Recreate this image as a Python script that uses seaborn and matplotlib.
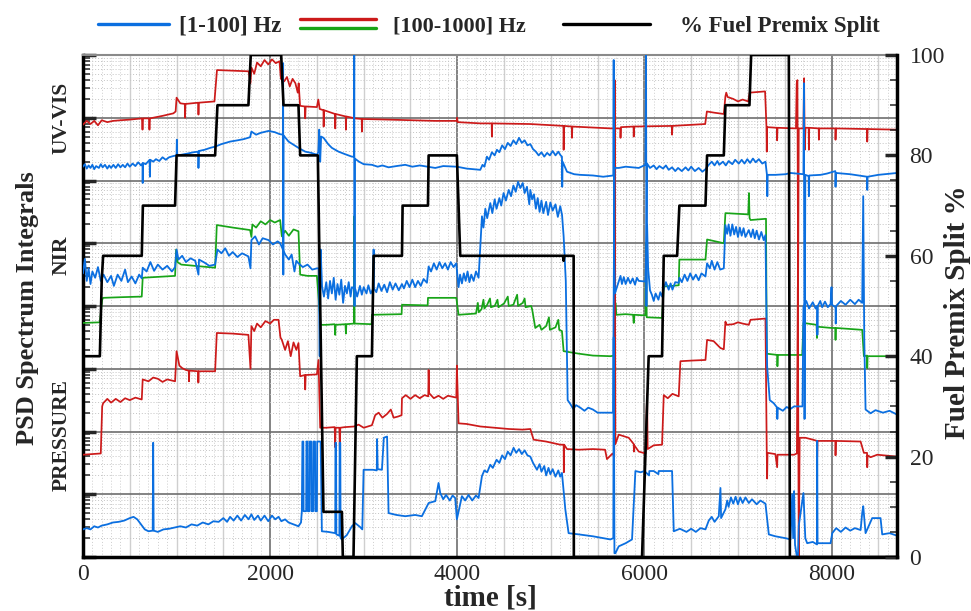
import numpy as np
import pandas as pd
import matplotlib
matplotlib.use("Agg")
import matplotlib.pyplot as plt
import seaborn as sns
from matplotlib.lines import Line2D
from matplotlib.legend_handler import HandlerBase
from matplotlib.ticker import MultipleLocator, LogLocator, NullFormatter
from matplotlib.transforms import blended_transform_factory

# ---------------------------------------------------------------------------
# Spectrum integrals: (time [s], log10 of the PSD integral)
# ---------------------------------------------------------------------------
uv_high = [
    (0, 6.89), (40, 6.95), (80, 6.90), (120, 6.95), (160, 6.88), (200, 6.96), (260, 6.93),
    (320, 6.95), (400, 6.96), (500, 6.97), (630, 6.99), (636, 6.81), (642, 6.99), (705, 6.99),
    (710, 6.81), (716, 6.99), (850, 7.03), (966, 7.07), (990, 7.10), (1000, 7.32), (1040, 7.23),
    (1088, 7.22), (1091, 7.00), (1095, 7.22), (1231, 7.24), (1234, 7.05), (1238, 7.24),
    (1405, 7.26), (1432, 7.76), (1600, 7.75), (1770, 7.74), (1790, 7.55), (1800, 7.80),
    (1830, 7.70), (1860, 7.88), (1900, 7.82), (1940, 7.92), (1980, 7.85), (2020, 7.93),
    (2060, 7.87), (2100, 7.90), (2115, 7.62), (2150, 7.58), (2180, 7.65), (2210, 7.50),
    (2240, 7.62), (2270, 7.55), (2295, 7.40), (2305, 7.55), (2320, 7.19), (2370, 7.18),
    (2375, 6.99), (2380, 7.18), (2500, 7.17), (2515, 7.29), (2530, 7.14), (2570, 7.12),
    (2572, 6.86), (2576, 7.12), (2694, 7.06), (2696, 6.83), (2700, 7.06), (2808, 7.02),
    (2810, 6.81), (2814, 7.02), (2910, 6.99), (2979, 6.98), (2981, 6.78), (2985, 6.98),
    (3270, 6.97), (3500, 6.96), (3765, 6.95), (3995, 6.95), (3998, 7.00), (4005, 6.93),
    (4250, 6.91), (4368, 6.91), (4370, 6.70), (4374, 6.91), (4780, 6.90), (5135, 6.87),
    (5137, 6.49), (5141, 6.87), (5224, 6.86), (5226, 6.68), (5230, 6.86), (5640, 6.83),
    (5680, 6.83), (5683, 7.60), (5687, 6.83), (5743, 6.83), (5745, 6.68), (5749, 6.85),
    (5884, 6.86), (5886, 6.70), (5890, 6.86), (6294, 6.87), (6296, 6.73), (6300, 6.87),
    (6650, 6.90), (6668, 7.10), (6750, 7.08), (6849, 7.06), (6866, 7.34), (6875, 7.40),
    (6890, 7.33), (6950, 7.30), (7000, 7.26), (7050, 7.29), (7110, 7.26), (7125, 7.40),
    (7290, 7.42), (7305, 6.85), (7308, 6.46), (7312, 6.85), (7417, 6.84), (7419, 6.64),
    (7423, 6.84), (7620, 6.83), (7628, 7.55), (7636, 7.60), (7643, 4.31), (7650, 6.83),
    (7700, 6.83), (7707, 7.63), (7714, 6.49), (7722, 6.84), (7756, 6.84), (7758, 6.49),
    (7762, 6.84), (7863, 6.83), (7865, 6.65), (7869, 6.83), (8041, 6.83), (8043, 6.65),
    (8047, 6.83), (8380, 6.82), (8382, 6.62), (8386, 6.82), (8700, 6.81),
]

uv_low = [
    (0, 6.22), (20, 6.26), (40, 6.19), (60, 6.24), (80, 6.20), (100, 6.25), (120, 6.18),
    (140, 6.23), (170, 6.20), (190, 6.26), (210, 6.21), (235, 6.25), (260, 6.19), (280, 6.24),
    (300, 6.20), (325, 6.25), (350, 6.20), (375, 6.26), (400, 6.21), (425, 6.25), (450, 6.21),
    (475, 6.27), (500, 6.22), (530, 6.27), (560, 6.23), (590, 6.29), (620, 6.24), (636, 6.27),
    (638, 5.96), (641, 6.28), (670, 6.26), (700, 6.31), (712, 6.33), (715, 6.06), (719, 6.33),
    (750, 6.30), (780, 6.34), (815, 6.31), (850, 6.37), (885, 6.33), (920, 6.37), (966, 6.39),
    (1000, 6.40), (1003, 6.65), (1007, 6.40), (1050, 6.41), (1120, 6.43), (1180, 6.45),
    (1232, 6.46), (1234, 6.20), (1238, 6.47), (1300, 6.49), (1360, 6.52), (1412, 6.54),
    (1480, 6.58), (1572, 6.62), (1650, 6.64), (1720, 6.66), (1786, 6.69), (1800, 6.78),
    (1850, 6.73), (1900, 6.76), (1983, 6.79), (2050, 6.77), (2100, 6.74), (2137, 6.73),
    (2139, 7.87), (2141, 4.50), (2143, 6.72), (2197, 6.62), (2250, 6.57), (2303, 6.52),
    (2375, 6.46), (2440, 6.44), (2500, 6.41), (2515, 6.45), (2525, 6.81), (2535, 6.30),
    (2545, 6.70), (2571, 6.68), (2620, 6.58), (2660, 6.52), (2731, 6.46), (2800, 6.42),
    (2874, 6.38), (2897, 6.38), (2899, 8.00), (2902, 4.00), (2905, 6.35), (2950, 6.30),
    (3000, 6.26), (3088, 6.25), (3150, 6.22), (3200, 6.24), (3266, 6.21), (3350, 6.23),
    (3444, 6.25), (3520, 6.22), (3600, 6.24), (3765, 6.20), (3850, 6.23), (3996, 6.22),
    (4100, 6.19), (4246, 6.17), (4270, 6.25), (4290, 6.22), (4317, 6.38), (4340, 6.33),
    (4370, 6.45), (4400, 6.40), (4424, 6.49), (4450, 6.45), (4480, 6.56), (4510, 6.50),
    (4540, 6.60), (4570, 6.55), (4600, 6.64), (4630, 6.58), (4660, 6.68), (4690, 6.60),
    (4720, 6.64), (4750, 6.56), (4781, 6.58), (4810, 6.50), (4840, 6.46), (4870, 6.40),
    (4900, 6.45), (4930, 6.38), (4960, 6.44), (4990, 6.40), (5020, 6.47), (5050, 6.40),
    (5080, 6.46), (5105, 6.40), (5119, 6.38), (5122, 5.90), (5126, 6.30), (5173, 6.14),
    (5250, 6.10), (5315, 6.09), (5450, 6.08), (5560, 6.06), (5668, 6.08), (5672, 7.92),
    (5676, 4.50), (5680, 6.20), (5726, 6.20), (5800, 6.22), (5940, 6.20), (6011, 6.25),
    (6018, 8.00), (6022, 4.00), (6028, 6.27), (6060, 6.20), (6100, 6.24), (6130, 6.18),
    (6160, 6.23), (6200, 6.19), (6230, 6.24), (6260, 6.17), (6296, 6.21), (6330, 6.15),
    (6360, 6.20), (6400, 6.15), (6440, 6.21), (6470, 6.16), (6500, 6.22), (6540, 6.15),
    (6580, 6.20), (6620, 6.14), (6653, 6.18), (6688, 6.25), (6720, 6.30), (6750, 6.24),
    (6780, 6.31), (6800, 6.25), (6840, 6.30), (6870, 6.24), (6900, 6.31), (6940, 6.26),
    (6970, 6.33), (7009, 6.27), (7040, 6.33), (7070, 6.27), (7100, 6.34), (7130, 6.28),
    (7160, 6.35), (7190, 6.29), (7223, 6.34), (7260, 6.27), (7294, 6.30), (7310, 6.09),
    (7314, 5.75), (7318, 6.09), (7400, 6.09), (7508, 6.10), (7562, 6.12), (7700, 6.10),
    (7705, 7.55), (7712, 2.20), (7720, 6.09), (7756, 6.07), (7758, 5.75), (7762, 6.08),
    (7883, 6.09), (7950, 6.11), (8041, 6.15), (8043, 5.90), (8047, 6.12), (8200, 6.10),
    (8380, 6.06), (8382, 5.85), (8386, 6.06), (8500, 6.09), (8700, 6.12),
]

nir_high = [
    (0, 3.73), (180, 3.74), (205, 4.10), (215, 4.13), (400, 4.14), (628, 4.15), (638, 4.45),
    (984, 4.48), (995, 4.90), (1010, 4.70), (1050, 4.66), (1200, 4.64), (1412, 4.61),
    (1430, 5.29), (1600, 5.25), (1786, 5.21), (1800, 5.10), (1810, 5.30), (1850, 5.25),
    (1900, 5.35), (1950, 5.30), (2000, 5.37), (2050, 5.33), (2107, 5.37), (2125, 5.11),
    (2160, 5.20), (2200, 5.12), (2250, 5.22), (2303, 5.19), (2321, 4.50), (2400, 4.48),
    (2500, 4.48), (2540, 3.70), (2600, 3.70), (2690, 3.71), (2696, 3.54), (2700, 3.70),
    (2805, 3.71), (2810, 3.56), (2815, 3.71), (2897, 3.72), (2899, 5.43), (2903, 3.72),
    (3085, 3.71), (3088, 3.86), (3405, 3.87), (3409, 4.02), (3684, 4.01), (3687, 4.13),
    (3990, 4.13), (4014, 3.86), (4100, 3.87), (4200, 3.88), (4220, 4.05), (4230, 3.90),
    (4260, 3.95), (4280, 4.10), (4290, 3.96), (4320, 4.02), (4350, 4.12), (4360, 3.98),
    (4400, 4.00), (4430, 4.10), (4440, 3.98), (4500, 4.04), (4540, 4.15), (4550, 4.00),
    (4600, 4.02), (4640, 4.18), (4650, 4.00), (4700, 4.05), (4720, 4.12), (4730, 3.98),
    (4790, 4.00), (4800, 3.95), (4834, 3.65), (4880, 3.70), (4900, 3.62), (4950, 3.68),
    (4980, 3.82), (4990, 3.62), (5050, 3.66), (5080, 3.78), (5090, 3.62), (5119, 3.60),
    (5137, 3.28), (5300, 3.24), (5450, 3.21), (5636, 3.20), (5680, 3.21), (5690, 4.05),
    (5700, 3.86), (5800, 3.87), (5880, 3.86), (5886, 3.73), (5890, 3.86), (6011, 3.85),
    (6018, 5.00), (6025, 3.82), (6189, 3.81), (6207, 4.31), (6367, 4.33), (6374, 4.74),
    (6653, 4.74), (6670, 5.06), (6849, 5.00), (6866, 5.48), (7110, 5.46), (7118, 5.80),
    (7124, 5.40), (7135, 5.37), (7300, 5.39), (7308, 3.24), (7420, 3.22), (7422, 3.04),
    (7426, 3.22), (7687, 3.22), (7700, 3.73), (7840, 3.70), (7845, 3.49), (7850, 3.67),
    (8000, 3.65), (8040, 3.65), (8043, 3.46), (8047, 3.65), (8328, 3.62), (8346, 3.20),
    (8380, 3.21), (8382, 3.01), (8386, 3.20), (8700, 3.20),
]

nir_low = [
    (0, 4.52), (20, 4.75), (40, 4.40), (60, 4.60), (80, 4.35), (100, 4.55), (130, 4.45),
    (160, 4.62), (190, 4.40), (220, 4.50), (260, 4.38), (300, 4.48), (330, 4.32), (370, 4.50),
    (410, 4.40), (450, 4.58), (480, 4.38), (520, 4.47), (560, 4.36), (600, 4.50), (628, 4.44),
    (638, 4.61), (680, 4.55), (720, 4.70), (760, 4.56), (800, 4.66), (850, 4.58), (900, 4.64),
    (950, 4.55), (984, 4.62), (1000, 4.90), (1020, 4.74), (1060, 4.80), (1100, 4.70),
    (1150, 4.76), (1200, 4.72), (1234, 4.50), (1240, 4.74), (1300, 4.69), (1350, 4.64),
    (1412, 4.66), (1437, 4.90), (1480, 4.84), (1520, 4.92), (1560, 4.80), (1600, 4.86),
    (1650, 4.78), (1700, 4.84), (1768, 4.79), (1790, 4.60), (1800, 5.05), (1840, 5.11),
    (1880, 4.98), (1920, 5.08), (1983, 5.05), (2030, 4.98), (2080, 5.03), (2107, 5.00),
    (2161, 4.82), (2200, 4.74), (2230, 4.82), (2260, 4.55), (2280, 4.72), (2303, 4.68),
    (2350, 4.62), (2400, 4.66), (2450, 4.58), (2500, 4.60), (2520, 4.60), (2530, 3.20),
    (2540, 4.90), (2555, 4.31), (2575, 4.15), (2600, 4.38), (2620, 4.12), (2640, 4.40),
    (2660, 4.20), (2680, 4.45), (2700, 4.10), (2720, 4.35), (2740, 4.18), (2760, 4.42),
    (2780, 4.05), (2800, 4.32), (2820, 4.20), (2840, 4.38), (2860, 4.15), (2874, 4.30),
    (2910, 4.27), (2930, 4.15), (2960, 4.32), (2980, 4.18), (3000, 4.30), (3030, 4.20),
    (3050, 4.33), (3075, 4.20), (3100, 4.27), (3106, 4.90), (3110, 4.28), (3135, 4.22),
    (3160, 4.36), (3190, 4.24), (3220, 4.34), (3250, 4.22), (3280, 4.38), (3310, 4.26),
    (3340, 4.36), (3375, 4.25), (3409, 4.35), (3430, 4.28), (3460, 4.40), (3490, 4.30),
    (3520, 4.42), (3550, 4.30), (3580, 4.40), (3610, 4.32), (3640, 4.43), (3676, 4.37),
    (3694, 4.63), (3720, 4.55), (3750, 4.68), (3780, 4.58), (3810, 4.70), (3840, 4.60),
    (3870, 4.68), (3900, 4.58), (3930, 4.70), (3960, 4.62), (3989, 4.68), (4014, 4.30),
    (4030, 4.50), (4050, 4.36), (4070, 4.52), (4090, 4.40), (4110, 4.55), (4130, 4.38),
    (4150, 4.50), (4175, 4.40), (4200, 4.55), (4228, 4.45), (4264, 5.43), (4280, 5.25),
    (4300, 5.55), (4320, 5.40), (4353, 5.64), (4375, 5.48), (4400, 5.70), (4420, 5.55),
    (4450, 5.72), (4470, 5.60), (4495, 5.80), (4520, 5.68), (4550, 5.85), (4575, 5.75),
    (4600, 5.92), (4625, 5.82), (4650, 5.98), (4674, 5.88), (4700, 5.96), (4720, 5.80),
    (4745, 5.90), (4770, 5.62), (4781, 5.85), (4800, 5.70), (4820, 5.78), (4840, 5.55),
    (4860, 5.72), (4880, 5.50), (4900, 5.68), (4920, 5.48), (4950, 5.66), (4970, 5.45),
    (4995, 5.65), (5020, 5.52), (5050, 5.62), (5075, 5.42), (5101, 5.59), (5120, 5.45),
    (5137, 5.11), (5160, 4.40), (5180, 2.50), (5208, 2.44), (5240, 2.36), (5270, 2.42),
    (5315, 2.38), (5360, 2.33), (5400, 2.38), (5450, 2.35), (5500, 2.30), (5560, 2.30),
    (5665, 2.30), (5675, 4.90), (5685, 4.20), (5726, 4.39), (5745, 4.48), (5760, 4.35),
    (5780, 4.46), (5800, 4.35), (5825, 4.45), (5850, 4.36), (5875, 4.44), (5900, 4.34),
    (5920, 4.45), (5940, 4.40), (6011, 4.39), (6029, 5.30), (6040, 4.60), (6060, 4.25),
    (6080, 4.18), (6100, 4.08), (6120, 4.20), (6150, 4.10), (6170, 4.22), (6189, 4.15),
    (6207, 4.28), (6230, 4.38), (6260, 4.26), (6280, 4.36), (6300, 4.26), (6330, 4.38),
    (6367, 4.37), (6374, 4.45), (6400, 4.38), (6430, 4.50), (6460, 4.40), (6490, 4.52),
    (6520, 4.42), (6550, 4.50), (6580, 4.41), (6610, 4.52), (6653, 4.47), (6670, 4.68),
    (6700, 4.60), (6720, 4.72), (6750, 4.58), (6780, 4.70), (6810, 4.58), (6849, 4.60),
    (6866, 5.29), (6885, 5.15), (6900, 5.30), (6920, 5.12), (6940, 5.30), (6960, 5.14),
    (6980, 5.26), (7000, 5.10), (7020, 5.25), (7040, 5.12), (7060, 5.24), (7080, 5.10),
    (7116, 5.21), (7140, 5.10), (7160, 5.22), (7180, 5.08), (7200, 5.20), (7225, 5.06),
    (7250, 5.18), (7275, 5.05), (7294, 5.13), (7312, 3.04), (7340, 2.50), (7383, 2.45),
    (7419, 2.38), (7421, 2.20), (7425, 2.38), (7480, 2.33), (7520, 2.39), (7562, 2.36),
    (7600, 2.40), (7690, 2.40), (7700, 3.99), (7730, 4.08), (7760, 3.96), (7800, 4.06),
    (7830, 3.96), (7847, 4.00), (7849, 3.54), (7853, 4.00), (7880, 4.08), (7900, 3.98),
    (7930, 4.07), (7960, 3.98), (7990, 4.03), (8000, 4.30), (8005, 4.02), (8043, 3.98),
    (8045, 3.72), (8050, 4.00), (8100, 4.08), (8150, 4.02), (8200, 4.10), (8250, 4.03),
    (8290, 4.10), (8328, 4.05), (8339, 5.75), (8350, 3.50), (8364, 2.35), (8418, 2.29),
    (8470, 2.34), (8550, 2.30), (8620, 2.33), (8700, 2.27),
]

pressure_high = [
    (0, 1.63), (100, 1.64), (190, 1.65), (205, 2.40), (215, 2.45), (260, 2.52), (300, 2.46),
    (350, 2.52), (400, 2.47), (450, 2.53), (500, 2.50), (560, 2.54), (628, 2.51), (638, 2.83),
    (700, 2.80), (750, 2.86), (800, 2.84), (850, 2.79), (900, 2.83), (984, 2.80),
    (1000, 3.28), (1030, 3.05), (1060, 3.01), (1100, 2.98), (1130, 2.97), (1133, 2.80),
    (1137, 2.97), (1230, 2.96), (1233, 2.78), (1237, 2.96), (1412, 2.96), (1430, 3.57),
    (1600, 3.56), (1768, 3.54), (1790, 3.00), (1800, 3.68), (1830, 3.60), (1860, 3.72),
    (1900, 3.66), (1950, 3.76), (2000, 3.72), (2040, 3.78), (2090, 3.78), (2110, 3.50),
    (2125, 3.46), (2160, 3.30), (2190, 3.44), (2220, 3.20), (2250, 3.42), (2280, 3.30),
    (2303, 3.41), (2321, 2.88), (2370, 2.90), (2375, 2.67), (2380, 2.90), (2500, 2.91),
    (2517, 3.14), (2535, 2.06), (2600, 2.06), (2690, 2.07), (2695, 1.75), (2700, 2.06),
    (2740, 2.06), (2745, 1.71), (2750, 2.06), (2800, 2.07), (2900, 2.08), (2945, 2.11),
    (3000, 2.06), (3088, 2.10), (3123, 2.26), (3160, 2.30), (3200, 2.22), (3250, 2.28),
    (3290, 2.35), (3320, 2.22), (3370, 2.24), (3405, 2.26), (3409, 2.53), (3450, 2.58),
    (3500, 2.52), (3550, 2.58), (3600, 2.53), (3650, 2.58), (3690, 2.56), (3694, 2.98),
    (3700, 2.61), (3750, 2.53), (3800, 2.57), (3850, 2.52), (3900, 2.57), (3990, 2.54),
    (3996, 3.05), (4014, 2.13), (4100, 2.12), (4246, 2.08), (4400, 2.06), (4550, 2.04),
    (4700, 2.03), (4781, 2.04), (4816, 1.87), (4950, 1.84), (5100, 1.79), (5137, 1.79),
    (5139, 1.35), (5143, 1.79), (5173, 1.72), (5300, 1.71), (5450, 1.72), (5580, 1.71),
    (5600, 1.56), (5660, 1.65), (5678, 1.60), (5683, 7.00), (5690, 1.80), (5726, 1.95),
    (5833, 1.90), (5886, 1.80), (5888, 1.68), (5892, 1.78), (5940, 1.68), (6011, 1.65),
    (6029, 2.60), (6035, 1.72), (6100, 1.78), (6189, 1.79), (6207, 2.58), (6250, 2.53),
    (6300, 2.60), (6367, 2.56), (6385, 3.12), (6500, 3.13), (6653, 3.14), (6670, 3.46),
    (6740, 3.44), (6780, 3.38), (6813, 3.33), (6849, 3.31), (6866, 3.75), (6880, 3.70),
    (6950, 3.71), (7000, 3.74), (7050, 3.72), (7116, 3.70), (7134, 3.78), (7294, 3.80),
    (7308, 1.66), (7312, 1.25), (7316, 1.66), (7400, 1.64), (7419, 1.43), (7423, 1.63),
    (7600, 1.63), (7630, 1.65), (7640, 4.30), (7650, -0.10), (7660, 1.90), (7722, 1.90),
    (7800, 1.87), (7845, 1.85), (7847, 1.60), (7851, 1.85), (8041, 1.85), (8043, 1.62),
    (8047, 1.85), (8311, 1.84), (8346, 1.66), (8380, 1.66), (8382, 1.43), (8386, 1.62),
    (8418, 1.59), (8489, 1.63), (8700, 1.60),
]

pressure_low = [
    (0, 0.44), (40, 0.46), (80, 0.44), (120, 0.49), (160, 0.47), (200, 0.50), (260, 0.52),
    (320, 0.55), (380, 0.56), (440, 0.58), (500, 0.62), (540, 0.64), (580, 0.60), (620, 0.52),
    (660, 0.44), (700, 0.41), (745, 0.42), (750, 1.82), (755, 0.42), (800, 0.40), (860, 0.44),
    (920, 0.45), (980, 0.47), (1040, 0.49), (1100, 0.47), (1160, 0.52), (1220, 0.50),
    (1280, 0.55), (1340, 0.52), (1394, 0.57), (1450, 0.56), (1500, 0.62), (1540, 0.56),
    (1572, 0.64), (1610, 0.58), (1650, 0.66), (1690, 0.58), (1730, 0.67), (1770, 0.60),
    (1800, 0.68), (1830, 0.59), (1870, 0.66), (1900, 0.58), (1940, 0.66), (1980, 0.57),
    (2020, 0.66), (2054, 0.60), (2090, 0.64), (2120, 0.57), (2160, 0.60), (2197, 0.55),
    (2250, 0.52), (2303, 0.49), (2330, 0.55), (2339, 0.73), (2345, 1.84), (2355, 1.84),
    (2358, 0.73), (2385, 0.73), (2388, 1.84), (2400, 1.84), (2403, 0.73), (2420, 0.73),
    (2423, 1.84), (2440, 1.84), (2443, 0.73), (2460, 0.73), (2463, 1.84), (2480, 1.84),
    (2483, 0.73), (2500, 0.73), (2503, 1.84), (2540, 1.84), (2553, 0.41), (2620, 0.40),
    (2696, 0.38), (2698, 1.82), (2705, 1.82), (2708, 0.36), (2740, 0.34), (2743, 1.82),
    (2750, 1.82), (2753, 0.30), (2767, 0.28), (2820, 0.35), (2874, 0.49), (2910, 0.54),
    (2960, 0.48), (2985, 0.44), (2999, 1.39), (3100, 1.39), (3140, 1.38), (3143, 1.88),
    (3150, 1.40), (3195, 1.39), (3215, 1.90), (3250, 1.92), (3266, 0.70), (3350, 0.67),
    (3444, 0.65), (3550, 0.67), (3622, 0.65), (3694, 0.86), (3765, 0.89), (3800, 1.18),
    (3818, 1.02), (3850, 0.92), (3880, 0.99), (3920, 0.90), (3950, 0.98), (3978, 0.94),
    (3996, 0.60), (4050, 0.97), (4085, 0.90), (4120, 0.99), (4160, 0.90), (4200, 0.98),
    (4228, 0.94), (4264, 1.29), (4290, 1.38), (4320, 1.35), (4353, 1.47), (4380, 1.42),
    (4420, 1.55), (4450, 1.50), (4480, 1.62), (4510, 1.56), (4540, 1.68), (4570, 1.62),
    (4602, 1.74), (4630, 1.66), (4660, 1.72), (4690, 1.64), (4720, 1.70), (4750, 1.62),
    (4781, 1.60), (4810, 1.50), (4852, 1.39), (4880, 1.48), (4900, 1.36), (4930, 1.45),
    (4950, 1.30), (4975, 1.42), (4995, 1.32), (5020, 1.40), (5050, 1.28), (5080, 1.38),
    (5100, 1.28), (5119, 1.34), (5155, 0.76), (5190, 0.38), (5300, 0.36), (5450, 0.33),
    (5560, 0.30), (5636, 0.28), (5668, 0.30), (5672, 3.50), (5680, 0.06), (5690, 0.06),
    (5726, 0.17), (5800, 0.22), (5868, 0.28), (5904, 1.37), (5960, 1.35), (6000, 1.37),
    (6050, 1.30), (6053, 1.37), (6100, 1.37), (6150, 1.32), (6153, 1.37), (6296, 1.37),
    (6314, 0.41), (6380, 0.45), (6450, 0.40), (6500, 0.45), (6550, 0.40), (6600, 0.46),
    (6653, 0.44), (6688, 0.58), (6720, 0.64), (6750, 0.56), (6795, 0.65), (6813, 1.10),
    (6820, 0.62), (6866, 0.76), (6885, 0.90), (6900, 0.80), (6925, 0.95), (6950, 0.85),
    (6975, 0.96), (7000, 0.84), (7025, 0.95), (7050, 0.86), (7080, 0.95), (7116, 0.86),
    (7150, 0.92), (7200, 0.84), (7240, 0.90), (7294, 0.85), (7330, 0.36), (7400, 0.33),
    (7508, 0.30), (7562, 0.28), (7580, 1.00), (7590, 0.30), (7600, 1.05), (7610, 0.20),
    (7640, -0.10), (7650, 0.50), (7700, 1.02), (7720, 0.30), (7740, 0.22), (7800, 0.24),
    (7845, 0.20), (7847, 1.85), (7851, 0.22), (7990, 0.22), (8008, 0.38), (8050, 0.46),
    (8100, 0.40), (8150, 0.47), (8200, 0.42), (8250, 0.46), (8311, 0.43), (8328, 0.70),
    (8339, 0.81), (8364, 0.38), (8400, 0.50), (8435, 0.62), (8524, 0.62), (8542, 0.36),
    (8620, 0.38), (8700, 0.34),
]

# Fuel premix split, percent
premix = [
    (0, 40), (180, 40), (200, 55), (215, 60), (628, 60), (640, 70), (984, 70), (1000, 80),
    (1412, 80), (1437, 90), (1768, 90), (1793, 100), (2118, 100), (2143, 90), (2303, 90),
    (2321, 80), (2510, 80), (2570, 9), (2767, 9), (2777, 0), (2891, 0), (2927, 40),
    (3088, 40), (3106, 60), (3409, 60), (3416, 70), (3687, 70), (3694, 80), (3996, 80),
    (4032, 60), (5130, 60), (5137, 59), (5145, 60), (5244, 60), (5246, 0), (5975, 0),
    (6046, 40), (6189, 40), (6207, 60), (6350, 60), (6374, 70), (6653, 70), (6670, 80),
    (6849, 80), (6866, 90), (7123, 90), (7141, 100), (7544, 100), (7555, 0), (8700, 0),
]

panel_names = ["UV-VIS", "NIR", "PRESSURE"]
panel_levels = [7.0, 4.81, 1.94]
x_ticks = [0, 2000, 4000, 6000, 8000]
legend_labels = ["[1-100] Hz", "[100-1000] Hz", "% Fuel Premix Split"]

BLUE = "#0b6fe0"
RED = "#cc1a1a"
GREEN = "#18a418"

sns.set_style("white")
plt.rcParams["font.family"] = ["Liberation Serif", "DejaVu Serif"]

W, H = 971, 611
fig = plt.figure(figsize=(W / 100, H / 100), dpi=100)
ax = fig.add_axes([83 / W, 1 - 557 / H, 814 / W, 502 / H])
ax.set_yscale("log")
ax2 = ax.twinx()


def trace(target, pts, color, lw, z, log=True):
    df = pd.DataFrame(pts, columns=["t", "v"])
    df["y"] = 10.0 ** df["v"] if log else df["v"]
    sns.lineplot(data=df, x="t", y="y", sort=False, estimator=None, color=color,
                 linewidth=lw, ax=target, zorder=z)


trace(ax, nir_high, GREEN, 1.25, 3)
trace(ax, pressure_high, RED, 1.25, 3)
trace(ax, uv_high, RED, 1.25, 3)
trace(ax, pressure_low, BLUE, 1.3, 4)
trace(ax, nir_low, BLUE, 1.3, 4)
trace(ax, uv_low, BLUE, 1.3, 4)
trace(ax2, premix, "black", 1.9, 5, log=False)

# --- left (log) axis -------------------------------------------------------
ax.set_xlim(0, 8700)
ax.set_ylim(1, 1e8)
ax.yaxis.set_major_locator(LogLocator(base=10, numticks=20))
ax.yaxis.set_minor_locator(LogLocator(base=10, subs=np.arange(2, 10), numticks=200))
ax.yaxis.set_major_formatter(NullFormatter())
ax.yaxis.set_minor_formatter(NullFormatter())
ax.xaxis.set_major_locator(plt.FixedLocator(x_ticks))
ax.xaxis.set_minor_locator(MultipleLocator(500))
ax.set_xlabel("")
ax.set_ylabel("")

ax.set_axisbelow(True)
ax.grid(which="major", axis="both", color="#6e6e6e", lw=1.2)
ax.grid(which="minor", axis="x", color="#cfcfcf", lw=1.0)
ax.grid(which="minor", axis="y", color="#c4c4c4", lw=0.7, ls=(0, (1, 2)))
for t in range(100, 8700, 100):
    if t % 500:
        ax.axvline(t, color="#cdcdcd", lw=0.7, ls=(0, (1, 2)), zorder=0)

ax.tick_params(axis="both", which="both", direction="in", top=False, right=False)
ax.tick_params(axis="both", which="major", length=9, width=2.5, labelsize=17, pad=5)
ax.tick_params(axis="both", which="minor", length=5, width=1.1)
for s in ("left", "bottom"):
    ax.spines[s].set_linewidth(2.5)
    ax.spines[s].set_color("black")
ax.spines["top"].set_color("#8a8a8a")
ax.spines["top"].set_linewidth(1.5)
ax.spines["right"].set_visible(False)

# --- right (percent) axis --------------------------------------------------
ax2.set_ylim(0, 100)
ax2.yaxis.set_major_locator(MultipleLocator(20))
ax2.yaxis.set_minor_locator(MultipleLocator(5))
ax2.tick_params(axis="y", which="both", direction="in")
ax2.tick_params(axis="y", which="major", length=9, width=2.5, labelsize=17, pad=9)
ax2.tick_params(axis="y", which="minor", length=5, width=1.1)
ax2.set_ylabel("")
ax2.set_xlabel("")
for s in ("left", "top", "bottom"):
    ax2.spines[s].set_visible(False)
ax2.spines["right"].set_linewidth(2.5)
ax2.spines["right"].set_color("black")
ax.set_xlim(0, 8700)

# --- labels ----------------------------------------------------------------
bold = dict(fontweight="bold")
fig.text(490 / W, 1 - 598 / H, "time [s]", ha="center", va="center", fontsize=21, **bold)
fig.text(28 / W, 1 - 308 / H, "PSD Spectrum Integrals", rotation=90, ha="center",
         va="center", fontsize=19, **bold)
fig.text(957 / W, 1 - 312 / H, "Fuel Premix Split %", rotation=90, ha="center",
         va="center", fontsize=21, **bold)
blend = blended_transform_factory(ax.transAxes, ax.transData)
for name, lvl in zip(panel_names, panel_levels):
    ax.text(-0.026, 10 ** lvl, name, transform=blend, rotation=90, ha="center",
            va="center", fontsize=15.5, **bold)


# --- legend ----------------------------------------------------------------
class PairHandler(HandlerBase):
    def create_artists(self, legend, orig_handle, xdescent, ydescent, width, height,
                       fontsize, trans):
        yc = height / 2 - ydescent
        gap = 0.2 * fontsize
        top = Line2D([-xdescent, width - xdescent], [yc + gap, yc + gap], color=RED,
                     lw=2.4, transform=trans)
        low = Line2D([-xdescent, width - xdescent], [yc - gap, yc - gap], color=GREEN,
                     lw=2.4, transform=trans)
        return [top, low]


h_blue = Line2D([], [], color=BLUE, lw=2.4)
h_pair = Line2D([], [], color=RED, lw=2.4)
h_black = Line2D([], [], color="black", lw=2.4)
legend_specs = [
    (h_blue, legend_labels[0], 98, 3.1, 0.45, 16.5),
    (h_pair, legend_labels[1], 300, 3.4, 0.8, 16),
    (h_black, legend_labels[2], 563, 3.8, 1.3, 16.5),
]
for handle, label, x0, hl, pad, size in legend_specs:
    fig.legend([handle], [label], loc="center left", bbox_to_anchor=(x0 / W, 1 - 26 / H),
               frameon=False, borderpad=0, borderaxespad=0, handlelength=hl,
               handletextpad=pad, prop={"weight": "bold", "size": size},
               handler_map={h_pair: PairHandler()})

fig.savefig("out.png", dpi=100)
